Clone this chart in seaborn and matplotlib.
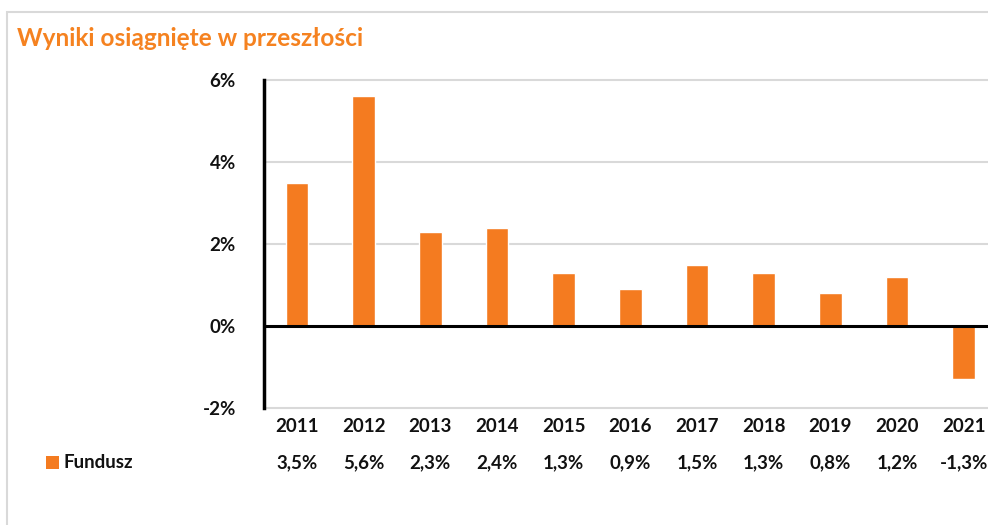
import matplotlib
matplotlib.use("Agg")
import matplotlib.pyplot as plt
import seaborn as sns
import pandas as pd
from matplotlib.patches import Rectangle
from matplotlib.transforms import blended_transform_factory

years = ["2011", "2012", "2013", "2014", "2015", "2016", "2017", "2018", "2019", "2020", "2021"]
fundusz = [3.5, 5.6, 2.3, 2.4, 1.3, 0.9, 1.5, 1.3, 0.8, 1.2, -1.3]
value_labels = ["3,5%", "5,6%", "2,3%", "2,4%", "1,3%", "0,9%", "1,5%", "1,3%", "0,8%", "1,2%", "-1,3%"]
yticks = [-2, 0, 2, 4, 6]
ytick_labels = ["-2%", "0%", "2%", "4%", "6%"]
series_name = "Fundusz"
title = "Wyniki osiągnięte w przeszłości"

ORANGE = "#F47B20"
TITLE_ORANGE = "#F58220"
GRID = "#D9D9D9"
TXT = "#111111"
FS = 13.5

sns.set_theme(style="white")
plt.rcParams['font.family'] = ['Lato', 'DejaVu Sans']

df = pd.DataFrame({"year": years, "value": fundusz})

fig = plt.figure(figsize=(9.88, 5.25), dpi=100)
W, H = 988, 525
ax = fig.add_axes([263.6 / W, 1 - 408 / H, (997 - 263.6) / W, (408 - 80) / H])

sns.barplot(data=df, x="year", y="value", color=ORANGE, width=0.34, ax=ax,
            saturation=1, zorder=3)

ax.set_ylim(-2, 6)
ax.set_xlim(-0.5, len(years) - 0.5)
ax.set_yticks(yticks)
ax.set_yticklabels(ytick_labels, fontsize=FS, fontweight="bold", color=TXT)
ax.tick_params(axis="y", length=0, pad=20)
ax.set_xticks([])
ax.set_xlabel("")
ax.set_ylabel("")

for s in ["top", "right", "bottom"]:
    ax.spines[s].set_visible(False)
ax.spines["left"].set_color("black")
ax.spines["left"].set_linewidth(2.5)
ax.spines["left"].set_zorder(5)

for t in yticks:
    if t == 0:
        continue
    ax.axhline(t, color=GRID, linewidth=1.5, zorder=1, clip_on=False)
ax.axhline(0, color="black", linewidth=2.2, zorder=4)

tr = blended_transform_factory(ax.transData, fig.transFigure)
for i, (yr, lab) in enumerate(zip(years, value_labels)):
    ax.text(i, 1 - 427 / H, yr, transform=tr, ha="center", va="center",
            fontsize=FS, fontweight="bold", color=TXT)
    ax.text(i, 1 - 463 / H, lab, transform=tr, ha="center", va="center",
            fontsize=FS, fontweight="bold", color=TXT)

# legend key
fig.patches.append(Rectangle((46 / W, 1 - 469 / H), 13 / W, 13 / H,
                             transform=fig.transFigure, facecolor=ORANGE,
                             edgecolor="none"))
fig.text(63 / W, 1 - 463 / H, series_name, ha="left", va="center",
         fontsize=FS, fontweight="bold", color=TXT)

fig.text(17 / W, 1 - 39 / H, title, ha="left", va="center",
         fontsize=17.6, fontweight="bold", color=TITLE_ORANGE)

# outer frame
fig.patches.append(Rectangle((7 / W, -0.1), 1.2, 1 - 12 / H + 0.1,
                             transform=fig.transFigure, facecolor="none",
                             edgecolor=GRID, linewidth=1.5))

fig.savefig("out.png", dpi=100)
